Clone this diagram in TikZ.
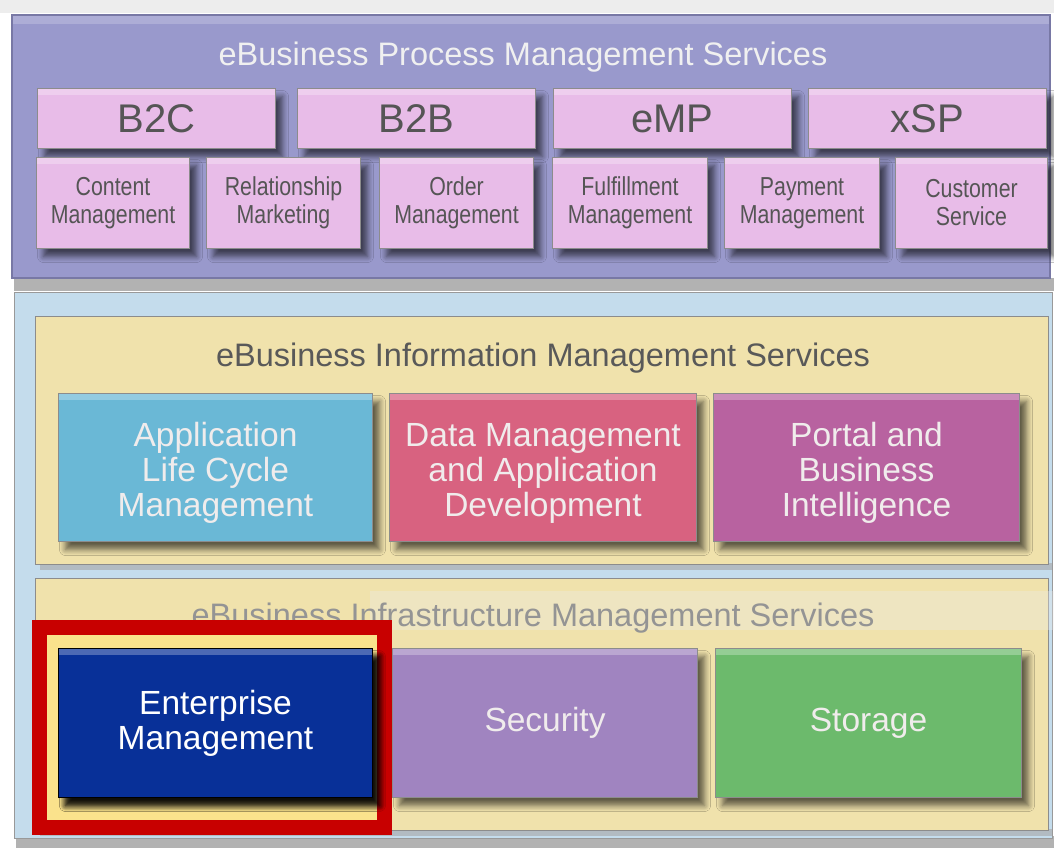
\documentclass[tikz,border=0pt]{standalone}
\usepackage{fontspec}
\setmainfont{Liberation Sans}
\newfontfamily\narrowfont[FakeStretch=0.82]{Liberation Sans}
\usetikzlibrary{shadows.blur}
\definecolor{toppanel}{RGB}{153,153,204}
\definecolor{topedge}{RGB}{120,120,165}
\definecolor{pinkbox}{RGB}{232,188,232}
\definecolor{bluepanel}{RGB}{196,220,236}
\definecolor{yellowpanel}{RGB}{240,226,172}
\definecolor{alcm}{RGB}{106,184,214}
\definecolor{dmad}{RGB}{216,98,128}
\definecolor{portal}{RGB}{184,98,160}
\definecolor{entblue}{RGB}{8,48,152}
\definecolor{secpurple}{RGB}{160,132,192}
\definecolor{storgreen}{RGB}{108,186,108}
\definecolor{redframe}{RGB}{200,0,0}
\definecolor{brightyellow}{RGB}{250,226,140}
\definecolor{darktext}{RGB}{85,85,85}
\definecolor{lighttext}{RGB}{240,236,236}
\tikzset{
  box/.style={draw=black!45, line width=1pt, anchor=north west, align=center, inner sep=0pt,
    blur shadow={shadow xshift=7pt, shadow yshift=-8pt, shadow opacity=60, shadow blur radius=6pt, shadow blur steps=6},
    path picture={\fill[white,opacity=0.28] (path picture bounding box.north west) rectangle ([yshift=-6pt]path picture bounding box.north east);}},
  toprow/.style={box, fill=pinkbox, minimum width=238, minimum height=60, text=darktext, font=\fontsize{40}{42}\selectfont},
  subrow/.style={box, fill=pinkbox, minimum height=91, text=darktext, font=\narrowfont\fontsize{26}{28}\selectfont},
  bigbox/.style={box, minimum height=148, text=lighttext, font=\fontsize{33.5}{35}\selectfont},
  paneltitle/.style={font=\fontsize{32.5}{34}\selectfont, inner sep=0pt},
}
\begin{document}
\begin{tikzpicture}[x=1pt,y=-1pt]
\useasboundingbox (0,0) rectangle (1054,852);
\fill[white] (0,0) rectangle (1054,852);
\fill[black!7] (0,0) rectangle (1054,13);
% top panel
\fill[black!30] (14,278) rectangle (1054,291);
\fill[toppanel] (12,15) rectangle (1050,278);
\fill[white,opacity=0.2] (12,15) rectangle (1050,24);
\draw[topedge, line width=1.2pt] (12,15) rectangle (1050,278);
\node[paneltitle, text=black!6] (ptitle) at (523,57) {eBusiness Process Management Services};
\node[toprow] (b2c) at (37,88) {B2C};
\node[toprow] (b2b) at (297,88) {B2B};
\node[toprow] (emp) at (553,88) {eMP};
\node[toprow] (xsp) at (808,88) {xSP};
\node[subrow, minimum width=153] (content) at (36,157) {Content\\Management};
\node[subrow, minimum width=154] (relation) at (206,157) {Relationship\\Marketing};
\node[subrow, minimum width=154] (order) at (379,157) {Order\\Management};
\node[subrow, minimum width=155] (fulfil) at (552,157) {Fulfillment\\Management};
\node[subrow, minimum width=155] (payment) at (724,157) {Payment\\Management};
\node[subrow, minimum width=152] (customer) at (895,157) {Customer\\Service};
% lower panel
\fill[black!30] (16,836) rectangle (1054,848);
\fill[bluepanel] (14,292) rectangle (1052,838);
\draw[black!40, line width=1pt] (14,292) rectangle (1052,838);
% information panel
\fill[black!35, opacity=0.6] (40,563) rectangle (1052,570);
\fill[yellowpanel] (35,316) rectangle (1048,564);
\draw[black!45, line width=1pt] (35,316) rectangle (1048,564);
\node[paneltitle, text=black!65] (ititle) at (543,358) {eBusiness Information Management Services};
\node[bigbox, fill=alcm, minimum width=314] (alcm) at (58,393) {\rule{0pt}{34pt}Application\\Life Cycle\\Management};
\node[bigbox, fill=dmad, minimum width=307] (dmad) at (389,393) {\rule{0pt}{34pt}Data Management\\and Application\\Development};
\node[bigbox, fill=portal, minimum width=306] (portal) at (713,393) {\rule{0pt}{34pt}Portal and\\Business\\Intelligence};
% infrastructure panel
\fill[black!35, opacity=0.6] (40,829) rectangle (1052,836);
\fill[yellowpanel] (35,578) rectangle (1048,830);
\draw[black!45, line width=1pt] (35,578) rectangle (1048,830);
\fill[black!8, opacity=0.35] (370,591) rectangle (1054,630);
\node[paneltitle, text=black!42] (stitle) at (533,618) {eBusiness Infrastructure Management Services};
\node[bigbox, fill=secpurple, minimum width=305, minimum height=149] (security) at (392,648) {Security};
\node[bigbox, fill=storgreen, minimum width=306, minimum height=149] (storage) at (715,648) {Storage};
% highlight frame
\draw[redframe, line width=15pt, fill=brightyellow] (39.5,627.5) rectangle (384.5,827.5);
\node[bigbox, draw=black, fill=entblue, text=white, minimum width=314, minimum height=149,
  blur shadow={shadow xshift=7pt, shadow yshift=-8pt, shadow opacity=75, shadow blur radius=6pt, shadow blur steps=6}] (enterprise) at (58,648) {Enterprise\\Management};
\end{tikzpicture}
\end{document}
